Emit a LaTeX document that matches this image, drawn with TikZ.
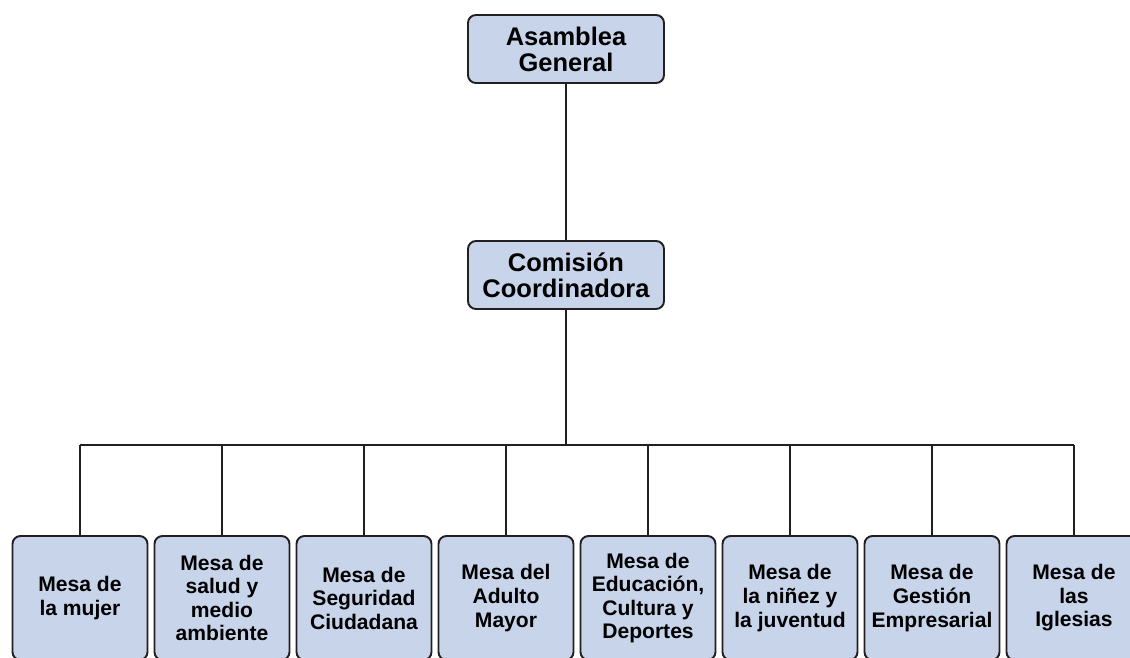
\documentclass[tikz,border=0pt]{standalone}
\usepackage{fontspec}
\setmainfont{Liberation Sans}
\usepackage{tikz}
\usetikzlibrary{positioning,calc}

\definecolor{boxfill}{RGB}{200,212,234}
\definecolor{boxline}{RGB}{35,31,32}

\tikzset{
    orgbox/.style={draw=boxline, fill=boxfill, line width=1.1pt, rounded corners=0.16cm,
        align=center, font=\bfseries, inner sep=0pt},
    topbox/.style={orgbox, minimum width=3.92cm, minimum height=1.36cm,
        font=\fontsize{14.5}{14.7}\selectfont\bfseries},
    mesabox/.style={orgbox, minimum width=2.7cm, minimum height=2.48cm,
        font=\fontsize{12}{13.4}\selectfont\bfseries},
    link/.style={draw=boxline, line width=1.1pt}
}

\begin{document}
\begin{tikzpicture}[x=0.2mm, y=-0.2mm]
        \clip (0,0) rectangle (1130,657);

        \node[topbox] (asamblea) at (566,49) {Asamblea\\General};
        \node[topbox] (comision) at (566,275) {Comisión\\Coordinadora};
        \coordinate (bus) at (566,445);

        \foreach \i/\txt in {1/{Mesa de\\la mujer},
                2/{Mesa de\\salud y\\medio\\ambiente},
                3/{Mesa de\\Seguridad\\Ciudadana},
                4/{Mesa del\\Adulto\\Mayor},
                5/{Mesa de\\Educación,\\Cultura y\\Deportes},
                6/{Mesa de\\la niñez y\\la juventud},
                7/{Mesa de\\Gestión\\Empresarial},
                8/{Mesa de\\las\\Iglesias}} {
            \node[mesabox] (mesa\i) at ({80+142*(\i-1)},598) {\txt};
            \draw[link] (mesa\i.north) -- (mesa\i.north |- bus);
        }

        \draw[link] (asamblea.south) -- (comision.north);
        \draw[link] (comision.south) -- (bus);
        \draw[link] (mesa1.north |- bus) -- (mesa8.north |- bus);
    \end{tikzpicture}
\end{document}
